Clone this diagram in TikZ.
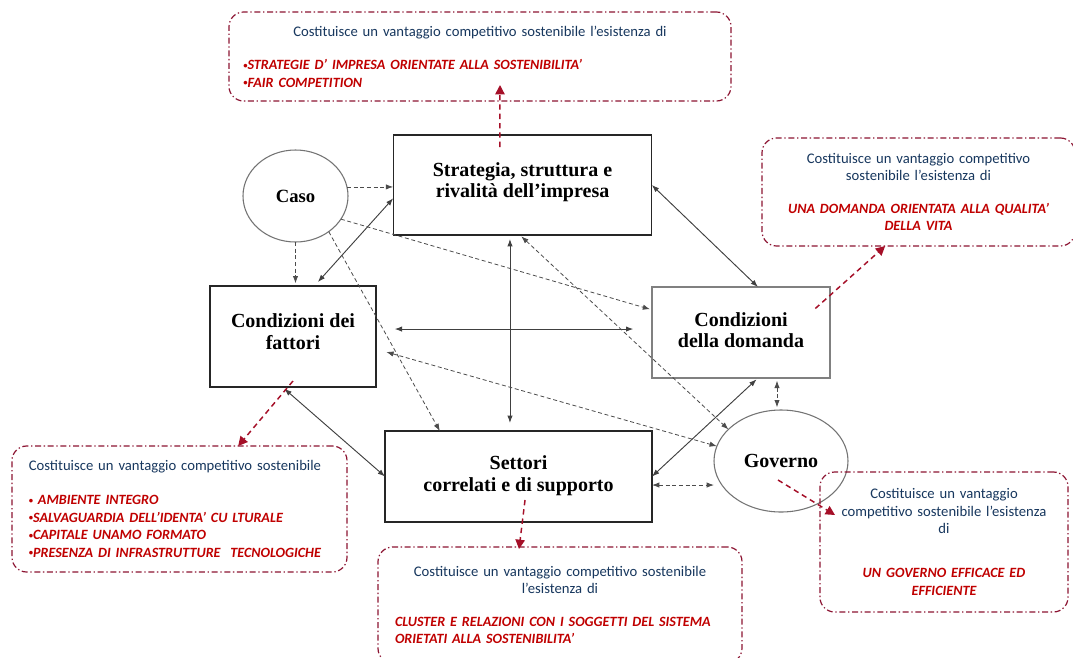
\documentclass[tikz,border=0pt]{standalone}
\usepackage{fontspec}
\setmainfont{Liberation Serif}
\newfontfamily\calib{Carlito}
\usetikzlibrary{shapes.geometric,arrows.meta}
\definecolor{chdr}{RGB}{23,55,94}
\definecolor{cred}{RGB}{192,0,0}
\definecolor{cfr}{RGB}{140,20,50}
\definecolor{carr}{RGB}{165,15,40}
\newcommand\hdr{\color{chdr}}
\newcommand\hot{\color{cred}\bfseries\itshape\fontsize{10.6}{13.2}\selectfont}
\newcommand\bul{\raisebox{0.1em}{\scalebox{0.6}{•}}}
\tikzset{porter/.style={x=0.75pt,y=-0.75pt}}
\tikzset{fbox/.style={draw=black!85,line width=0.9pt,inner sep=0pt,outer sep=0pt,align=center,
           font=\bfseries\fontsize{15}{16}\selectfont},
         fcirc/.style={ellipse,draw=black!55,line width=0.8pt,inner sep=0pt,outer sep=0pt,
           font=\bfseries\fontsize{15}{16}\selectfont}}
\tikzset{sline/.style={black!75,line width=0.7pt},
         dline/.style={black!70,line width=0.6pt,dash pattern=on 3pt off 2pt},
         oneway/.style={-{Latex[length=5.5pt,width=4pt]}},
         twoway/.style={{Latex[length=5.5pt,width=4pt]}-{Latex[length=5.5pt,width=4pt]}}}
\tikzset{callout/.style={draw=cfr,line width=0.9pt,dash pattern=on 4.5pt off 2pt on 1pt off 2pt,
           rounded corners=11pt,inner sep=0pt,outer sep=0pt,font=\calib\fontsize{11}{13.2}\selectfont},
         hint/.style={carr,line width=1.1pt,dash pattern=on 4pt off 3pt,-{Triangle[length=7pt,width=7pt]}}}

\begin{document}
\begin{tikzpicture}[porter]
    \fill[white] (0,0) rectangle (1073,657);
    \useasboundingbox (0,0) rectangle (1073,657);
    % diamond of Porter
    \node[fbox,minimum width=194pt,minimum height=75pt] (strat) at (522.5,185) {Strategia, struttura e\\rivalità dell’impresa\\[-8.5pt]};
    \node[fbox,minimum width=124.5pt,minimum height=75.75pt] (fatt) at (293,336.5) {Condizioni dei\\fattori\\[-8.5pt]};
    \node[fbox,draw=black!50,minimum width=133.5pt,minimum height=68.25pt] (dom) at (741,332.5) {Condizioni\\della domanda\\[-12pt]};
    \node[fbox,minimum width=200.25pt,minimum height=68.25pt] (sett) at (518.5,476.5) {Settori\\correlati e di supporto\\[-11.5pt]};
    \node[fcirc,minimum width=78.75pt,minimum height=69pt,font=\bfseries\fontsize{14}{16}\selectfont] (caso) at (295.5,196) {Caso};
    \node[fcirc,minimum width=100.5pt,minimum height=76.5pt] (gov) at (781,461) {Governo};
    % links
    \draw[dline,oneway] (caso.10) -- (caso.10 -| strat.west);
    \draw[dline,oneway,shorten >=2pt] (caso.south) -- (caso.south |- fatt.north);
    \draw[sline,twoway,shorten >=4pt] ([yshift=-10pt]strat.west) -- ([xshift=16pt]fatt.north);
    \draw[dline,oneway,shorten >=1.5pt] (caso.-27) -- ([yshift=17pt]dom.west);
    \draw[dline,oneway] (caso.-47) -- ([xshift=-59pt]sett.north);
    \draw[sline,twoway,shorten <=3pt,shorten >=6pt] ([xshift=-9.4pt]strat.south) -- ([xshift=-9.4pt]strat.south |- sett.north);
    \draw[sline,twoway,shorten <=14pt,shorten >=14pt] ([yshift=5.6pt]fatt.east) -- ([yshift=5.6pt]fatt.east -| dom.west);
    \draw[dline,twoway,shorten <=1.5pt] ([xshift=-2pt]strat.south) -- (gov.149);
    \draw[sline,twoway] (strat.east) -- ([xshift=12.75pt]dom.north);
    \draw[dline,twoway,shorten <=8pt] ([yshift=-9.4pt]fatt.east) -- (gov.167);
    \draw[sline,twoway,shorten <=2pt] ([xshift=-8pt]fatt.south) -- (sett.west);
    \draw[sline,twoway,shorten >=1.5pt] (sett.east) -- ([xshift=12.75pt]dom.south);
    \draw[dline,twoway] ([yshift=-6.4pt]sett.east) -- ([yshift=-6.4pt]sett.east -| gov.west);
    \draw[dline,twoway,shorten <=2pt,shorten >=2pt] ([xshift=27pt]dom.south) -- ([xshift=27pt]dom.south |- gov.north);
    % callouts
    \node[callout,minimum width=376.5pt,minimum height=66.75pt,text width=355pt] (cbtop) at (480,56.5)
      {\centering\hdr Costituisce un vantaggio competitivo sostenibile l’esistenza di\par\vspace{12pt}
       \raggedright\hot \bul STRATEGIE D’ IMPRESA ORIENTATE ALLA SOSTENIBILITA’\\\bul FAIR COMPETITION\par};
    \node[callout,minimum width=234.75pt,minimum height=81pt,text width=225pt,align=center] (cbdom) at (918.5,192)
      {\hdr Costituisce un vantaggio competitivo\\sostenibile l’esistenza di\\[11pt]
       \hot UNA DOMANDA ORIENTATA ALLA QUALITA’\\DELLA VITA};
    \node[callout,minimum width=251.25pt,minimum height=94.5pt,text width=226pt,align=left] (cbfatt) at (179.5,509)
      {\hdr Costituisce un vantaggio competitivo sostenibile\\[12pt]
       \hot \bul\ AMBIENTE INTEGRO\\\bul SALVAGUARDIA DELL’IDENTA’ CU LTURALE\\\bul CAPITALE UNAMO FORMATO\\\mbox{\bul PRESENZA DI INFRASTRUTTURE\ \ TECNOLOGICHE}};
    \node[callout,minimum width=273pt,minimum height=87pt,text width=247.5pt] (cbsett) at (560,605)
      {\centering\hdr Costituisce un vantaggio competitivo sostenibile\\l’esistenza di\par\vspace{11pt}
       \raggedright\hot CLUSTER E RELAZIONI CON I SOGGETTI DEL SISTEMA\\ORIETATI ALLA SOSTENIBILITA’\par};
    \node[callout,minimum width=186pt,minimum height=105pt,text width=180pt,align=center] (cbgov) at (944,542)
      {\hdr Costituisce un vantaggio\\competitivo sostenibile l’esistenza\\di\\[20pt]
       \hot UN GOVERNO EFFICACE ED\\EFFICIENTE};
    % pointers to the callouts
    \draw[hint] ([xshift=-17pt,yshift=-9pt]strat.north) -- ([xshift=15pt,yshift=12pt]cbtop.south);
    \draw[hint] ([xshift=-11pt,yshift=18pt]dom.east) -- ([xshift=-25pt]cbdom.south);
    \draw[hint] ([yshift=4.5pt]fatt.south) -- ([xshift=44pt]cbfatt.north);
    \draw[hint] ([xshift=4.9pt,yshift=-17.6pt]sett.center) -- ([xshift=-30.75pt,yshift=-1.5pt]cbsett.north);
    \draw[hint] ([xshift=-2.25pt,yshift=-14.25pt]gov.center) -- ([xshift=11.25pt,yshift=20.25pt]cbgov.west);
\end{tikzpicture}
\end{document}
